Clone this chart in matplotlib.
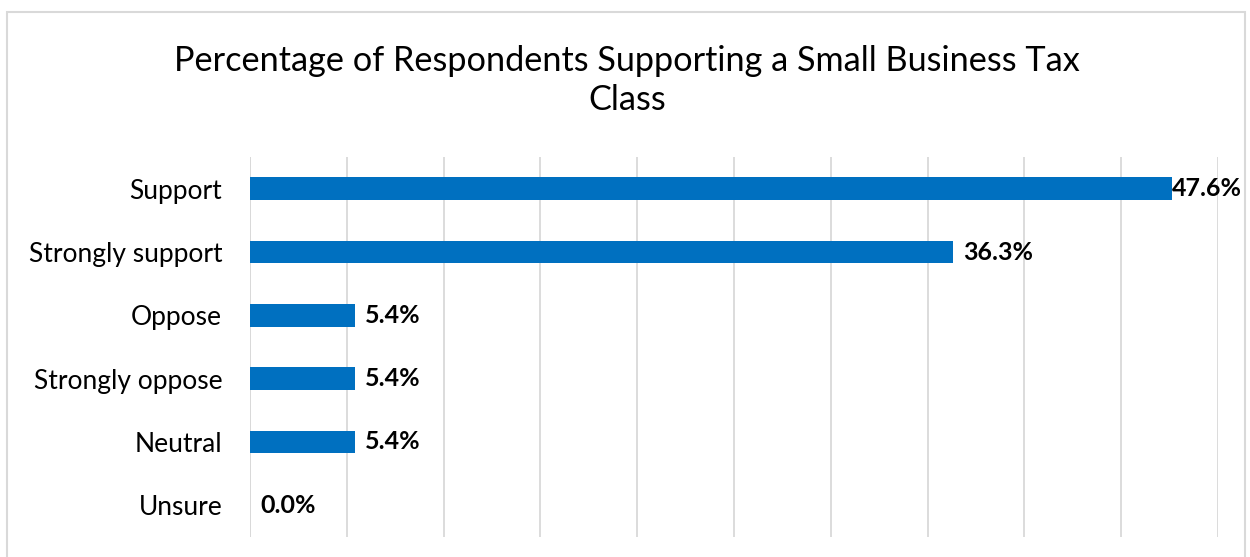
import matplotlib.pyplot as plt
from matplotlib.patches import Rectangle

# dati
categorie = ['Support', 'Strongly support', 'Oppose', 'Strongly oppose', 'Neutral', 'Unsure']
valori = [47.6, 36.3, 5.4, 5.4, 5.4, 0.0]
etichette = ['47.6%', '36.3%', '5.4%', '5.4%', '5.4%', '0.0%']

plt.rcParams['font.family'] = ['Lato', 'DejaVu Sans']

fig = plt.figure(figsize=(12.5, 5.57), dpi=100)
ax = fig.add_axes([0.2, 0.036, 0.7744, 0.682])

y = list(range(len(categorie)))
ax.barh(y, valori, height=0.36, color='#0070C0', zorder=3)
ax.set_ylim(len(categorie) - 0.5, -0.5)
ax.set_xlim(0, 50)
ax.set_xticks(range(0, 51, 5))
ax.set_xticklabels([])
ax.tick_params(axis='x', length=0)
ax.tick_params(axis='y', length=0, pad=20, labelsize=19)
ax.set_yticks(y)
ax.set_yticklabels(categorie)
ax.grid(axis='x', color='#d9d9d9', linewidth=1.3, zorder=0)
for s in ax.spines.values():
    s.set_visible(False)
ax.axvline(0, color='#d9d9d9', linewidth=1.3, zorder=1)

# etichette dei valori
for yi, v, t in zip(y, valori, etichette):
    off = 0.55 if v < 45 else 0.0
    ax.text(v + off, yi, t, va='center', ha='left', fontsize=18,
            fontweight='bold', zorder=4)

fig.text(0.5015, 0.855, 'Percentage of Respondents Supporting a Small Business Tax\nClass',
         ha='center', va='center', fontsize=24.7, linespacing=1.27)

fig.patches.append(Rectangle((0.0056, -0.05), 0.9904, 1.028, transform=fig.transFigure,
                             fill=False, edgecolor='#d9d9d9', linewidth=1.5))

fig.savefig('out.png', dpi=100)
